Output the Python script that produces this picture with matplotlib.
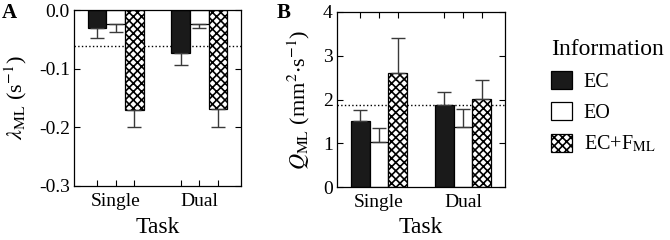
"""Two-panel bar chart: lambda_ML and Q_ML by task and information condition"""
import numpy as np
import matplotlib
matplotlib.use('Agg')
import matplotlib.pyplot as plt
from matplotlib.patches import Patch

plt.rcParams['font.family'] = 'serif'
plt.rcParams['font.serif'] = ['Liberation Serif']
plt.rcParams['mathtext.fontset'] = 'stix'
plt.rcParams['axes.unicode_minus'] = False
plt.rcParams['hatch.linewidth'] = 1.2

# Data ---
tasks = ['Single', 'Dual']
conditions = ['EC', 'EO', 'EC+F$_{\\mathrm{ML}}$']

lam_ec = [-0.030, -0.074]
lam_eo = [-0.023, -0.024]
lam_ecf = [-0.170, -0.169]
lam_ec_err = [0.018, 0.019]
lam_eo_err = [0.014, 0.007]
lam_ecf_err = [0.029, 0.031]
lam_ref = -0.061

q_ec = [1.52, 1.87]
q_eo = [1.04, 1.37]
q_ecf = [2.60, 2.01]
q_ec_err = [0.23, 0.31]
q_eo_err = [0.30, 0.41]
q_ecf_err = [0.79, 0.43]
q_ref = 1.875

# Styles per condition
FACES = ['#1a1a1a', 'white', 'white']
HATCHES = [None, None, 'xxxx']
WIDTH = 0.222
ERR_COLOR = '#3a3a3a'


def draw_panel(ax, means, errs, ref, downward):
    x = np.arange(1, len(tasks) + 1)
    offsets = [-WIDTH, 0, WIDTH]
    centers = []
    for m, e, off, fc, h in zip(means, errs, offsets, FACES, HATCHES):
        ax.bar(x + off, m, WIDTH, color=fc, edgecolor='black', hatch=h, linewidth=0.9, zorder=2)
        e = np.asarray(e)
        yerr = [e, np.zeros_like(e)] if downward else [np.zeros_like(e), e]
        ax.errorbar(x + off, m, yerr=yerr, fmt='none', ecolor=ERR_COLOR, elinewidth=1.0,
                    capsize=5, capthick=1.0, zorder=3)
        centers.extend(list(x + off))
    ax.axhline(ref, color='black', linestyle=':', linewidth=1.0, zorder=1)

    # ticks at every bar, labels only under the middle bar of each group
    centers = sorted(centers)
    labels = ['' for _ in centers]
    for i, t in enumerate(tasks):
        labels[3 * i + 1] = t
    ax.set_xticks(centers)
    ax.set_xticklabels(labels)
    ax.set_xlim(0.5, 2.5)
    ax.tick_params(axis='both', direction='in', top=True, right=True, length=4, labelsize=14,
                   width=0.8)
    ax.tick_params(axis='x', pad=5)
    ax.tick_params(axis='y', pad=3)
    for s in ax.spines.values():
        s.set_linewidth(0.9)
    ax.set_xlabel('Task', fontsize=17, labelpad=5)


fig = plt.figure(figsize=(6.7, 2.4), dpi=100)
ax_a = fig.add_axes([0.1104, 0.225, 0.2493, 0.733])
ax_b = fig.add_axes([0.503, 0.2196, 0.2507, 0.7316])

# Panel A ---
draw_panel(ax_a, [lam_ec, lam_eo, lam_ecf], [lam_ec_err, lam_eo_err, lam_ecf_err], lam_ref, True)
ax_a.set_ylim(-0.3, 0.0)
ax_a.set_yticks([0.0, -0.1, -0.2, -0.3])
ax_a.set_yticklabels(['0.0', '-0.1', '-0.2', '-0.3'])
ax_a.set_ylabel('$\\lambda_{\\mathrm{ML}}$ (s$^{-1}$)', fontsize=16)
ax_a.yaxis.set_label_coords(-0.27, 0.5)
fig.text(0.003, 0.945, 'A', fontsize=15, fontweight='bold', va='center', ha='left')

# Panel B ---
draw_panel(ax_b, [q_ec, q_eo, q_ecf], [q_ec_err, q_eo_err, q_ecf_err], q_ref, False)
ax_b.set_ylim(0, 4)
ax_b.set_yticks([0, 1, 2, 3, 4])
ax_b.set_ylabel('$Q_{\\mathrm{ML}}$ (mm$^{2}$$\\cdot$s$^{-1}$)', fontsize=16)
ax_b.yaxis.set_label_coords(-0.149, 0.5)
ax_b.xaxis.labelpad = 4
fig.text(0.413, 0.945, 'B', fontsize=15, fontweight='bold', va='center', ha='left')

# Legend ---
handles = [Patch(facecolor=fc, edgecolor='black', hatch=h, linewidth=0.9)
           for fc, h in zip(FACES, HATCHES)]
fig.legend(handles, conditions, title='Information', loc='upper left',
           bbox_to_anchor=(0.808, 0.878), frameon=False, fontsize=14.5, title_fontsize=17,
           borderpad=0, handlelength=1.0, handleheight=1.0, handletextpad=0.6,
           labelspacing=0.52, alignment='left')

fig.savefig('out.png', dpi=100)
